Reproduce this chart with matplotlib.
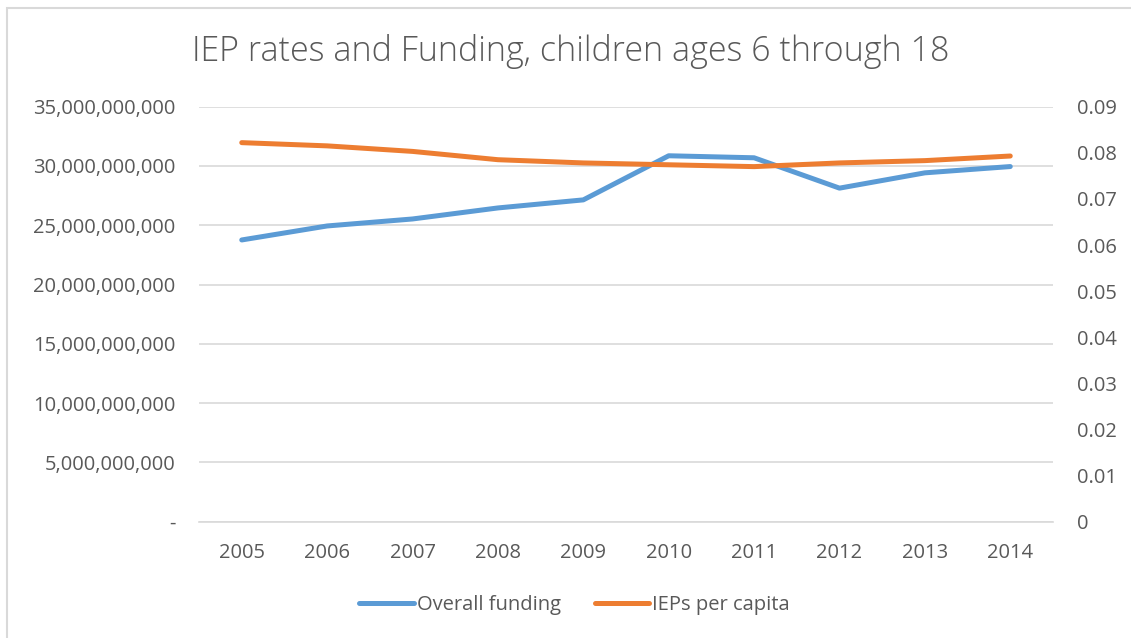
import matplotlib.pyplot as plt
from matplotlib.patches import Rectangle

years = ['2005', '2006', '2007', '2008', '2009', '2010', '2011', '2012', '2013', '2014']
funding = [23.76e9, 24.94e9, 25.53e9, 26.46e9, 27.14e9, 30.86e9, 30.69e9, 28.13e9, 29.42e9, 29.95e9]
ieps_per_capita = [0.0822, 0.0815, 0.0803, 0.0785, 0.0778, 0.0774, 0.0770, 0.0778, 0.0783, 0.0793]

left_ticks = [0, 5e9, 10e9, 15e9, 20e9, 25e9, 30e9, 35e9]
left_labels = ['-', '5,000,000,000', '10,000,000,000', '15,000,000,000', '20,000,000,000',
               '25,000,000,000', '30,000,000,000', '35,000,000,000']
right_ticks = [0, 0.01, 0.02, 0.03, 0.04, 0.05, 0.06, 0.07, 0.08, 0.09]
right_labels = ['0', '0.01', '0.02', '0.03', '0.04', '0.05', '0.06', '0.07', '0.08', '0.09']

txt = '#595959'
blue = '#5b9bd5'
orange = '#ed7d31'
plt.rcParams['font.family'] = ['Open Sans', 'DejaVu Sans']

fig = plt.figure(figsize=(11.31, 6.38), dpi=100)
fig.patches.append(Rectangle((7/1131, -0.1), 1.2, 1 - 8/638 + 0.1, transform=fig.transFigure,
                             fill=False, edgecolor='#d9d9d9', linewidth=1.5))
ax = fig.add_axes([0.176, 0.1823, 0.755, 0.6505])
bx = ax.twinx()

x = range(len(years))
ax.plot(x, funding, color=blue, linewidth=3.6, solid_capstyle='round', label='Overall funding')
bx.plot(x, ieps_per_capita, color=orange, linewidth=3.6, solid_capstyle='round', label='IEPs per capita')

ax.set_xlim(-0.5, 9.5)
ax.set_ylim(0, 35e9)
bx.set_ylim(0, 0.09)
ax.set_xticks(list(x))
ax.set_xticklabels(years)
ax.set_yticks(left_ticks)
ax.set_yticklabels(left_labels)
bx.set_yticks(right_ticks)
bx.set_yticklabels(right_labels)

ax.grid(axis='y', color='#d9d9d9', linewidth=1.2)
ax.set_axisbelow(True)
for a in (ax, bx):
    for s in a.spines.values():
        s.set_visible(False)
    a.tick_params(length=0, labelsize=14.5, colors=txt)
ax.tick_params(axis='y', pad=17)
ax.tick_params(axis='x', pad=15)
bx.tick_params(axis='y', pad=17)
ax.spines['bottom'].set_visible(True)
ax.spines['bottom'].set_color('#d9d9d9')
ax.spines['bottom'].set_linewidth(1.2)

fig.text(0.505, 0.92, 'IEP rates and Funding, children ages 6 through 18', ha='center', va='center',
         fontsize=24.5, color=txt, fontweight='light')

h1, l1 = ax.get_legend_handles_labels()
h2, l2 = bx.get_legend_handles_labels()
fig.legend(h1 + h2, l1 + l2, loc='center', bbox_to_anchor=(0.508, 0.052), ncol=2, frameon=False,
           fontsize=14.5, labelcolor=txt, handlelength=2.7, handletextpad=0.15, columnspacing=1.7)

fig.savefig('out.png', dpi=100)
